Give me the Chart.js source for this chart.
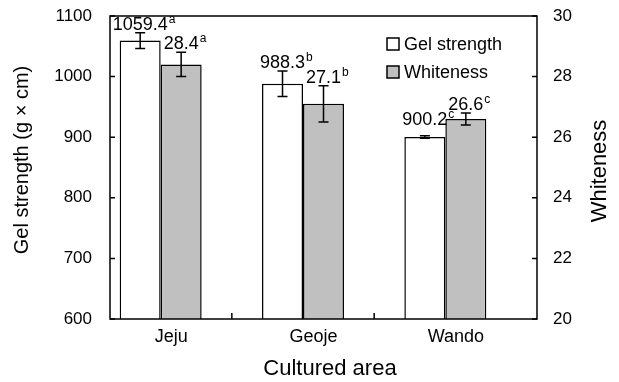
<!DOCTYPE html>
<html><head><meta charset="utf-8">
<script src="https://cdn.jsdelivr.net/npm/chart.js@4"></script>
<style>html,body{margin:0;padding:0;background:#fff}canvas{display:block}</style>
</head><body>
<canvas id="c" width="619" height="382"></canvas>
<script>
const categories = ['Jeju', 'Geoje', 'Wando'];
const gelStrength = [1059.4, 988.3, 900.2];
const gelError = [13, 21, 2];
const gelLetters = ['a', 'b', 'c'];
const whiteness = [28.4, 27.1, 26.6];
const whitenessError = [0.4, 0.6, 0.2];
const whitenessLetters = ['a', 'b', 'c'];
const gelTicks = [600, 700, 800, 900, 1000, 1100];
const whitenessTicks = [20, 22, 24, 26, 28, 30];
const seriesNames = ['Gel strength', 'Whiteness'];
const titleX = 'Cultured area';
const titleY = 'Gel strength (g × cm)';
const titleY2 = 'Whiteness';

const FAMILY = "'Liberation Sans', Arial, sans-serif";

const decor = {
  id: 'decor',
  afterDatasetsDraw(chart, args, opts) {
    const ctx = chart.ctx, a = chart.chartArea;
    const yL = chart.scales.y, yR = chart.scales.y2;
    ctx.save();
    ctx.strokeStyle = '#000';
    ctx.fillStyle = '#000';
    ctx.lineWidth = 1.5;
    // frame
    ctx.strokeRect(a.left, a.top, a.right - a.left, a.bottom - a.top);
    // inward ticks
    ctx.beginPath();
    yL.ticks.forEach(t => { const y = yL.getPixelForValue(t.value); ctx.moveTo(a.left, y); ctx.lineTo(a.left + 5, y); });
    yR.ticks.forEach(t => { const y = yR.getPixelForValue(t.value); ctx.moveTo(a.right - 5, y); ctx.lineTo(a.right, y); });
    const m0 = chart.getDatasetMeta(0);
    const centers = m0.data.map(el => el.x + el.width / 2);
    for (let i = 0; i < centers.length - 1; i++) {
      const xm = (centers[i] + centers[i + 1]) / 2;
      ctx.moveTo(xm, a.bottom); ctx.lineTo(xm, a.bottom - 6);
    }
    ctx.stroke();
    // error bars + labels
    const sets = [
      { meta: m0, vals: gelStrength, errs: gelError, sc: yL, letters: gelLetters, lift: opts.lift[0] },
      { meta: chart.getDatasetMeta(1), vals: whiteness, errs: whitenessError, sc: yR, letters: whitenessLetters, lift: opts.lift[1] }
    ];
    sets.forEach(s => {
      s.meta.data.forEach((el, i) => {
        const v = s.vals[i], e = s.errs[i];
        const yt = s.sc.getPixelForValue(v + e), yb = s.sc.getPixelForValue(v - e);
        const cx = el.x;
        ctx.beginPath();
        ctx.moveTo(cx, yt); ctx.lineTo(cx, yb);
        ctx.moveTo(cx - 5, yt); ctx.lineTo(cx + 5, yt);
        ctx.moveTo(cx - 5, yb); ctx.lineTo(cx + 5, yb);
        ctx.stroke();
        const base = yt - 3 - s.lift[i];
        const txt = v.toFixed(1);
        ctx.font = '18px ' + FAMILY;
        ctx.textAlign = 'center'; ctx.textBaseline = 'alphabetic';
        ctx.fillText(txt, cx, base);
        const w = ctx.measureText(txt).width;
        ctx.font = '12px ' + FAMILY;
        ctx.textAlign = 'left';
        ctx.fillText(s.letters[i], cx + w / 2 + 1, base - 7);
      });
    });
    // legend
    const lx = a.left + 277, ly = a.top + 22;
    const fills = ['#ffffff', '#c0c0c0'];
    ctx.font = '18px ' + FAMILY;
    ctx.textAlign = 'left'; ctx.textBaseline = 'middle';
    seriesNames.forEach((n, i) => {
      const y = ly + i * 28;
      ctx.fillStyle = fills[i];
      ctx.fillRect(lx, y, 12, 12);
      ctx.lineWidth = 1.5;
      ctx.strokeRect(lx, y, 12, 12);
      ctx.fillStyle = '#000';
      ctx.fillText(n, lx + 17, y + 7);
    });
    // axis titles
    ctx.textAlign = 'center'; ctx.textBaseline = 'middle';
    ctx.font = '22px ' + FAMILY;
    ctx.fillText(titleX, 330, 369);
    ctx.save();
    ctx.translate(600, 171); ctx.rotate(-Math.PI / 2);
    ctx.fillText(titleY2, 0, 0);
    ctx.restore();
    ctx.save();
    ctx.font = '20px ' + FAMILY;
    ctx.translate(22, 160); ctx.rotate(-Math.PI / 2);
    ctx.fillText(titleY, 0, 0);
    ctx.restore();
    ctx.restore();
  }
};

function fixY(width) {
  return function (s) { s.width = width; s.paddingTop = 0; s.paddingBottom = 0; };
}

new Chart(document.getElementById('c'), {
  type: 'bar',
  data: {
    labels: categories,
    datasets: [
      { label: seriesNames[0], data: gelStrength, yAxisID: 'y', backgroundColor: '#ffffff', borderColor: '#000', borderWidth: 1.5 },
      { label: seriesNames[1], data: whiteness, yAxisID: 'y2', backgroundColor: '#c0c0c0', borderColor: '#000', borderWidth: 1.5 },
      { label: '', data: categories.map(() => null), yAxisID: 'y' }
    ]
  },
  options: {
    responsive: false, animation: false, devicePixelRatio: 1,
    categoryPercentage: 0.864, barPercentage: 1,
    layout: { padding: { top: 16, left: 0, right: 0, bottom: 0 } },
    plugins: { legend: { display: false }, tooltip: { enabled: false }, decor: { lift: [[0, 0, 8], [0, 0, 0]] } },
    scales: {
      x: {
        grid: { display: false, drawTicks: false }, border: { display: false },
        ticks: { font: { family: FAMILY, size: 18 }, color: '#000', padding: 7, labelOffset: -10, maxRotation: 0 },
        afterFit(s) { s.height = 63; s.paddingLeft = 0; s.paddingRight = 0; }
      },
      y: {
        position: 'left', min: 600, max: 1100,
        afterBuildTicks(s) { s.ticks = gelTicks.map(v => ({ value: v })); },
        grid: { display: false, drawTicks: false }, border: { display: false },
        ticks: { font: { family: FAMILY, size: 17 }, color: '#000', padding: 18, callback: v => String(v) },
        afterFit: fixY(110)
      },
      y2: {
        position: 'right', min: 20, max: 30,
        afterBuildTicks(s) { s.ticks = whitenessTicks.map(v => ({ value: v })); },
        grid: { display: false, drawTicks: false }, border: { display: false },
        ticks: { font: { family: FAMILY, size: 17 }, color: '#000', padding: 16, callback: v => String(v) },
        afterFit: fixY(82)
      }
    }
  },
  plugins: [decor]
});
</script>
</body></html>
